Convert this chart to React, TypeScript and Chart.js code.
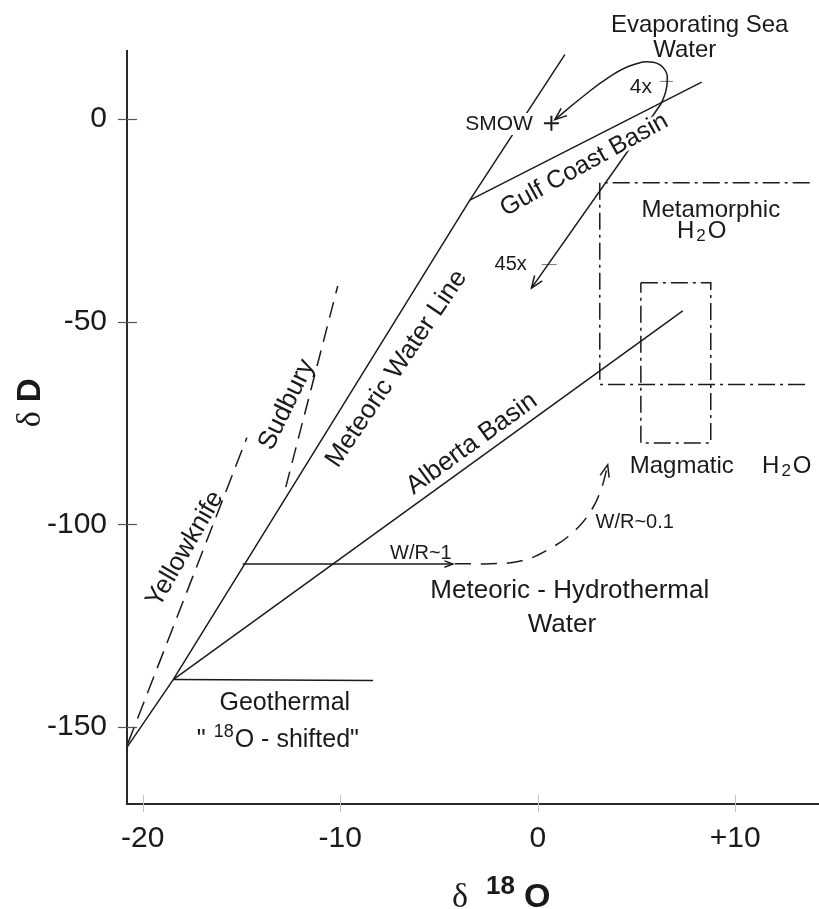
import React, { useEffect, useRef } from "react";
import { Chart, registerables } from "chart.js";

Chart.register(...registerables);

// ---------- axes ----------
const X_TICKS = [-20, -10, 0, 10];
const X_TICK_LABELS = ["-20", "-10", "0", "+10"];
const Y_TICKS = [0, -50, -100, -150];
const Y_TICK_LABELS = ["0", "-50", "-100", "-150"];
const X_MIN = -20.8;
const X_MAX = 14.24;
const Y_MIN = -169;
const Y_MAX = 16.8;

// ---------- series: [δ18O, δD] ----------
const meteoricWaterLine = [[-20.83, -155.2], [-18.46, -138.3], [-3.44, -20.0], [1.37, 15.9]];
const yellowknife = [[-20.76, -154.1], [-14.73, -78.6]];
const sudbury = [[-12.76, -90.8], [-10.13, -41.2]];
const albertaBasin = [[-18.46, -138.3], [7.34, -47.3]];
const geothermal = [[-18.46, -138.3], [-8.34, -138.5]];
const gulfCoastBasin = [[-3.44, -20.0], [8.3, 9.1]];
const evaporationLoop = [[0.86, -0.17], [2.29, 5.58], [3.65, 10.5], [4.83, 13.4], [5.84, 14.0], [6.43, 12.2], [6.55, 8.9], [6.34, 4.8], [5.92, 1.5], [5.5, -1.4]];
const evaporationTrend = [[5.5, -1.4], [-0.32, -41.7]];
const hydrothermalShift = [[-14.94, -109.8], [-4.3, -109.8]];
const hydrothermalCurve = [[-4.2, -109.7], [-2.43, -109.7], [-0.81, -109.0], [0.61, -106.0], [1.87, -101.6], [2.73, -96.4], [3.24, -90.9], [3.54, -85.3]];
const metamorphicField = [[13.77, -15.7], [3.14, -15.7], [3.14, -65.5], [13.67, -65.5]];
const magmaticField = [[5.22, -40.4], [8.76, -40.4], [8.76, -79.9], [5.22, -79.9], [5.22, -40.4]];
const smowPoint = [[0.69, -1.0]];
const tick4x = [[6.18, 9.3], [6.84, 9.3]];
const tick45x = [[0.2, -35.9], [0.96, -35.9]];

// ---------- text ----------
const SANS = "'Liberation Sans', Arial, Helvetica, sans-serif";
const SERIF = "'Liberation Serif', 'Times New Roman', serif";
const INK = "#1a1a1a";

type Part = { t: string; size: number; bold?: boolean; serif?: boolean; dy?: number; gap?: number };
type Label = { x: number; y: number; rot?: number; align?: "left" | "center" | "right"; base?: CanvasTextBaseline; bg?: boolean; parts: Part[] };

const h2o = (s: number): Part[] => [
  { t: "H", size: s },
  { t: "2", size: Math.round(s * 0.72), dy: 3, gap: 2 },
  { t: "O", size: s, gap: 2 },
];

const LABELS: Label[] = [
  { x: 8.2, y: 21.54, parts: [{ t: "Evaporating Sea", size: 24 }] },
  { x: 7.44, y: 15.37, parts: [{ t: "Water", size: 24 }] },
  { x: -0.25, y: -2.64, align: "right", bg: true, parts: [{ t: "SMOW", size: 21 }] },
  { x: 5.22, y: 6.49, parts: [{ t: "4x", size: 21 }] },
  { x: -1.37, y: -37.2, parts: [{ t: "45x", size: 20 }] },
  { x: 2.35, y: -11.3, rot: -29, base: "middle", bg: true, parts: [{ t: "Gulf Coast Basin", size: 25 }] },
  { x: 8.76, y: -24.1, parts: [{ t: "Metamorphic", size: 24 }] },
  { x: 8.3, y: -29.3, parts: h2o(24) },
  { x: 7.29, y: -87.3, parts: [{ t: "Magmatic", size: 24 }] },
  { x: 12.61, y: -87.3, parts: h2o(24) },
  { x: -7.15, y: -61.6, rot: -56, base: "middle", parts: [{ t: "Meteoric Water Line", size: 26 }] },
  { x: -12.71, y: -70.5, rot: -64, base: "middle", parts: [{ t: "Sudbury", size: 26 }] },
  { x: -17.86, y: -106.1, rot: -60, base: "middle", parts: [{ t: "Yellowknife", size: 26 }] },
  { x: -3.34, y: -80.1, rot: -36, base: "middle", parts: [{ t: "Alberta Basin", size: 26 }] },
  { x: -5.92, y: -108.5, parts: [{ t: "W/R~1", size: 20 }] },
  { x: 4.91, y: -100.8, parts: [{ t: "W/R~0.1", size: 20 }] },
  { x: 1.62, y: -118.1, parts: [{ t: "Meteoric - Hydrothermal", size: 26 }] },
  { x: 1.22, y: -126.5, parts: [{ t: "Water", size: 26 }] },
  { x: -12.81, y: -145.7, parts: [{ t: "Geothermal", size: 25 }] },
  {
    x: -13.16, y: -154.9,
    parts: [
      { t: "\"", size: 25 },
      { t: "18", size: 18, dy: -10, gap: 8 },
      { t: "O - shifted\"", size: 25, gap: 1 },
    ],
  },
];

function fontOf(p: Part) {
  return `${p.bold ? "bold " : ""}${p.size}px ${p.serif ? SERIF : SANS}`;
}

function drawRich(ctx: CanvasRenderingContext2D, lab: Label, px: number, py: number) {
  ctx.save();
  ctx.translate(px, py);
  if (lab.rot) ctx.rotate((lab.rot * Math.PI) / 180);
  const widths = lab.parts.map((p) => {
    ctx.font = fontOf(p);
    return ctx.measureText(p.t).width;
  });
  const total = lab.parts.reduce((a, p, i) => a + widths[i] + (p.gap || 0), 0);
  let cx = lab.align === "right" ? -total : lab.align === "left" ? 0 : -total / 2;
  const base = lab.base || "alphabetic";
  const maxSize = Math.max(...lab.parts.map((p) => p.size));
  if (lab.bg) {
    ctx.fillStyle = "#ffffff";
    const top = base === "middle" ? -maxSize * 0.36 : -maxSize * 0.8;
    ctx.fillRect(cx - 3, top, total + 6, maxSize * (base === "middle" ? 0.72 : 1.05));
  }
  ctx.fillStyle = INK;
  ctx.textAlign = "left";
  ctx.textBaseline = base;
  lab.parts.forEach((p, i) => {
    cx += p.gap || 0;
    ctx.font = fontOf(p);
    ctx.fillText(p.t, cx, p.dy || 0);
    cx += widths[i];
  });
  ctx.restore();
}

function arrowHead(ctx: CanvasRenderingContext2D, tx: number, ty: number, fx: number, fy: number, len: number, half: number) {
  const ang = Math.atan2(ty - fy, tx - fx);
  const a = (half * Math.PI) / 180;
  ctx.beginPath();
  ctx.moveTo(tx - len * Math.cos(ang - a), ty - len * Math.sin(ang - a));
  ctx.lineTo(tx, ty);
  ctx.lineTo(tx - len * Math.cos(ang + a), ty - len * Math.sin(ang + a));
  ctx.stroke();
}

const overlay = {
  id: "overlay",
  afterDatasetsDraw(chart: any) {
    const ctx: CanvasRenderingContext2D = chart.ctx;
    const xs = chart.scales.x;
    const ys = chart.scales.y;
    // arrowheads
    chart.data.datasets.forEach((ds: any, i: number) => {
      if (!ds.arrowStart && !ds.arrowEnd) return;
      const pts = chart.getDatasetMeta(i).data as any[];
      const n = pts.length;
      ctx.save();
      ctx.setLineDash([]);
      ctx.strokeStyle = INK;
      ctx.lineWidth = 1.5;
      const len = ds.arrowSize || 13;
      if (ds.arrowEnd) {
        const p = pts[n - 1];
        let fx = pts[n - 2].x, fy = pts[n - 2].y;
        if (ds.tension && p.cp1x !== undefined && (p.cp1x !== p.x || p.cp1y !== p.y)) { fx = p.cp1x; fy = p.cp1y; }
        arrowHead(ctx, p.x, p.y, fx, fy, len, 21);
      }
      if (ds.arrowStart) {
        const p = pts[0];
        let fx = pts[1].x, fy = pts[1].y;
        if (ds.tension && p.cp2x !== undefined && (p.cp2x !== p.x || p.cp2y !== p.y)) { fx = p.cp2x; fy = p.cp2y; }
        arrowHead(ctx, p.x, p.y, fx, fy, len, 21);
      }
      ctx.restore();
    });
    // labels
    LABELS.forEach((lab) => drawRich(ctx, lab, xs.getPixelForValue(lab.x), ys.getPixelForValue(lab.y)));
  },
  afterDraw(chart: any) {
    const ctx: CanvasRenderingContext2D = chart.ctx;
    const xs = chart.scales.x;
    const ys = chart.scales.y;
    const area = chart.chartArea;
    ctx.save();
    ctx.setLineDash([]);
    ctx.strokeStyle = "#555";
    ctx.lineWidth = 1.2;
    Y_TICKS.forEach((v) => {
      const py = Math.round(ys.getPixelForValue(v)) + 0.5;
      ctx.beginPath();
      ctx.moveTo(area.left - 9, py);
      ctx.lineTo(area.left + 10, py);
      ctx.stroke();
    });
    ctx.strokeStyle = "#c4c4c4";
    ctx.lineWidth = 1;
    X_TICKS.forEach((v) => {
      const px = Math.round(xs.getPixelForValue(v)) + 0.5;
      ctx.beginPath();
      ctx.moveTo(px, area.bottom - 9);
      ctx.lineTo(px, area.bottom + 8);
      ctx.stroke();
    });
    ctx.restore();
    // axis titles
    drawRich(ctx, {
      x: 0, y: 0, align: "center",
      parts: [
        { t: "\u03B4", size: 34, serif: true },
        { t: "18", size: 26, bold: true, dy: -13, gap: 18 },
        { t: "O", size: 34, bold: true, gap: 9 },
      ],
    }, xs.getPixelForValue(-1.85), chart.height - 2);
    drawRich(ctx, {
      x: 0, y: 0, rot: -90, align: "center",
      parts: [
        { t: "\u03B4", size: 34, serif: true },
        { t: "D", size: 33, bold: true, gap: 9 },
      ],
    }, 40, ys.getPixelForValue(-70));
  },
};

export default function App() {
  const ref = useRef<HTMLCanvasElement>(null);
  useEffect(() => {
    const canvas = ref.current;
    if (!canvas) return;
    const toXY = (arr: number[][]) => arr.map(([x, y]) => ({ x, y }));
    const line = (arr: number[][], extra: any = {}) => ({
      data: toXY(arr),
      showLine: true,
      borderColor: INK,
      borderWidth: 1.5,
      pointRadius: 0,
      pointHoverRadius: 0,
      tension: 0,
      fill: false,
      ...extra,
    });
    const dashDot = [17, 5, 3, 5];
    const datasets: any[] = [
      line(meteoricWaterLine),
      line(yellowknife, { borderDash: [18, 9] }),
      line(sudbury, { borderDash: [16, 9] }),
      line(albertaBasin),
      line(geothermal),
      line(gulfCoastBasin),
      line(evaporationLoop, { tension: 0.45, arrowStart: true }),
      line(evaporationTrend, { arrowEnd: true }),
      line(hydrothermalShift, { arrowEnd: true, arrowSize: 9 }),
      line(hydrothermalCurve, { tension: 0.4, borderDash: [16, 10], arrowEnd: true }),
      line(metamorphicField, { borderDash: dashDot }),
      line(magmaticField, { borderDash: dashDot }),
      line(tick4x, { borderWidth: 1, borderColor: "#777" }),
      line(tick45x, { borderWidth: 1, borderColor: "#777" }),
      {
        data: toXY(smowPoint),
        showLine: false,
        pointStyle: "cross",
        pointRadius: 7.5,
        pointHoverRadius: 7.5,
        borderColor: INK,
        borderWidth: 2,
      },
    ];
    const chart = new Chart(canvas, {
      type: "scatter",
      data: { datasets },
      options: {
        animation: false,
        responsive: false,
        devicePixelRatio: 1,
        events: [],
        layout: { autoPadding: false, padding: { top: 51, left: 0, right: 0, bottom: 0 } },
        plugins: { legend: { display: false }, tooltip: { enabled: false }, title: { display: false } },
        scales: {
          x: {
            type: "linear",
            min: X_MIN,
            max: X_MAX,
            afterBuildTicks: (s: any) => { s.ticks = X_TICKS.map((v) => ({ value: v })); },
            afterFit: (s: any) => { s.height = 105; s.paddingLeft = 0; s.paddingRight = 0; s.paddingTop = 0; s.paddingBottom = 0; },
            ticks: {
              autoSkip: false,
              maxRotation: 0,
              minRotation: 0,
              padding: 17,
              color: INK,
              font: { family: SANS, size: 30 },
              callback: (v: any) => X_TICK_LABELS[X_TICKS.indexOf(Number(v))] ?? "",
            },
            grid: { display: false, drawTicks: false },
            border: { display: true, color: "#2a2a2a", width: 2 },
          },
          y: {
            type: "linear",
            min: Y_MIN,
            max: Y_MAX,
            afterBuildTicks: (s: any) => { s.ticks = Y_TICKS.map((v) => ({ value: v })); },
            afterFit: (s: any) => { s.width = 127; s.paddingLeft = 0; s.paddingRight = 0; s.paddingTop = 0; s.paddingBottom = 0; },
            ticks: {
              autoSkip: false,
              padding: 20,
              color: INK,
              font: { family: SANS, size: 30 },
              callback: (v: any) => Y_TICK_LABELS[Y_TICKS.indexOf(Number(v))] ?? "",
            },
            grid: { display: false, drawTicks: false },
            border: { display: true, color: "#2a2a2a", width: 2 },
          },
        },
      } as any,
      plugins: [overlay],
    });
    return () => chart.destroy();
  }, []);
  return (
    <div style={{ position: "fixed", left: 0, top: 0, width: 819, height: 909, background: "#ffffff" }}>
      <canvas ref={ref} width={819} height={909} style={{ display: "block", width: 819, height: 909 }} />
    </div>
  );
}
